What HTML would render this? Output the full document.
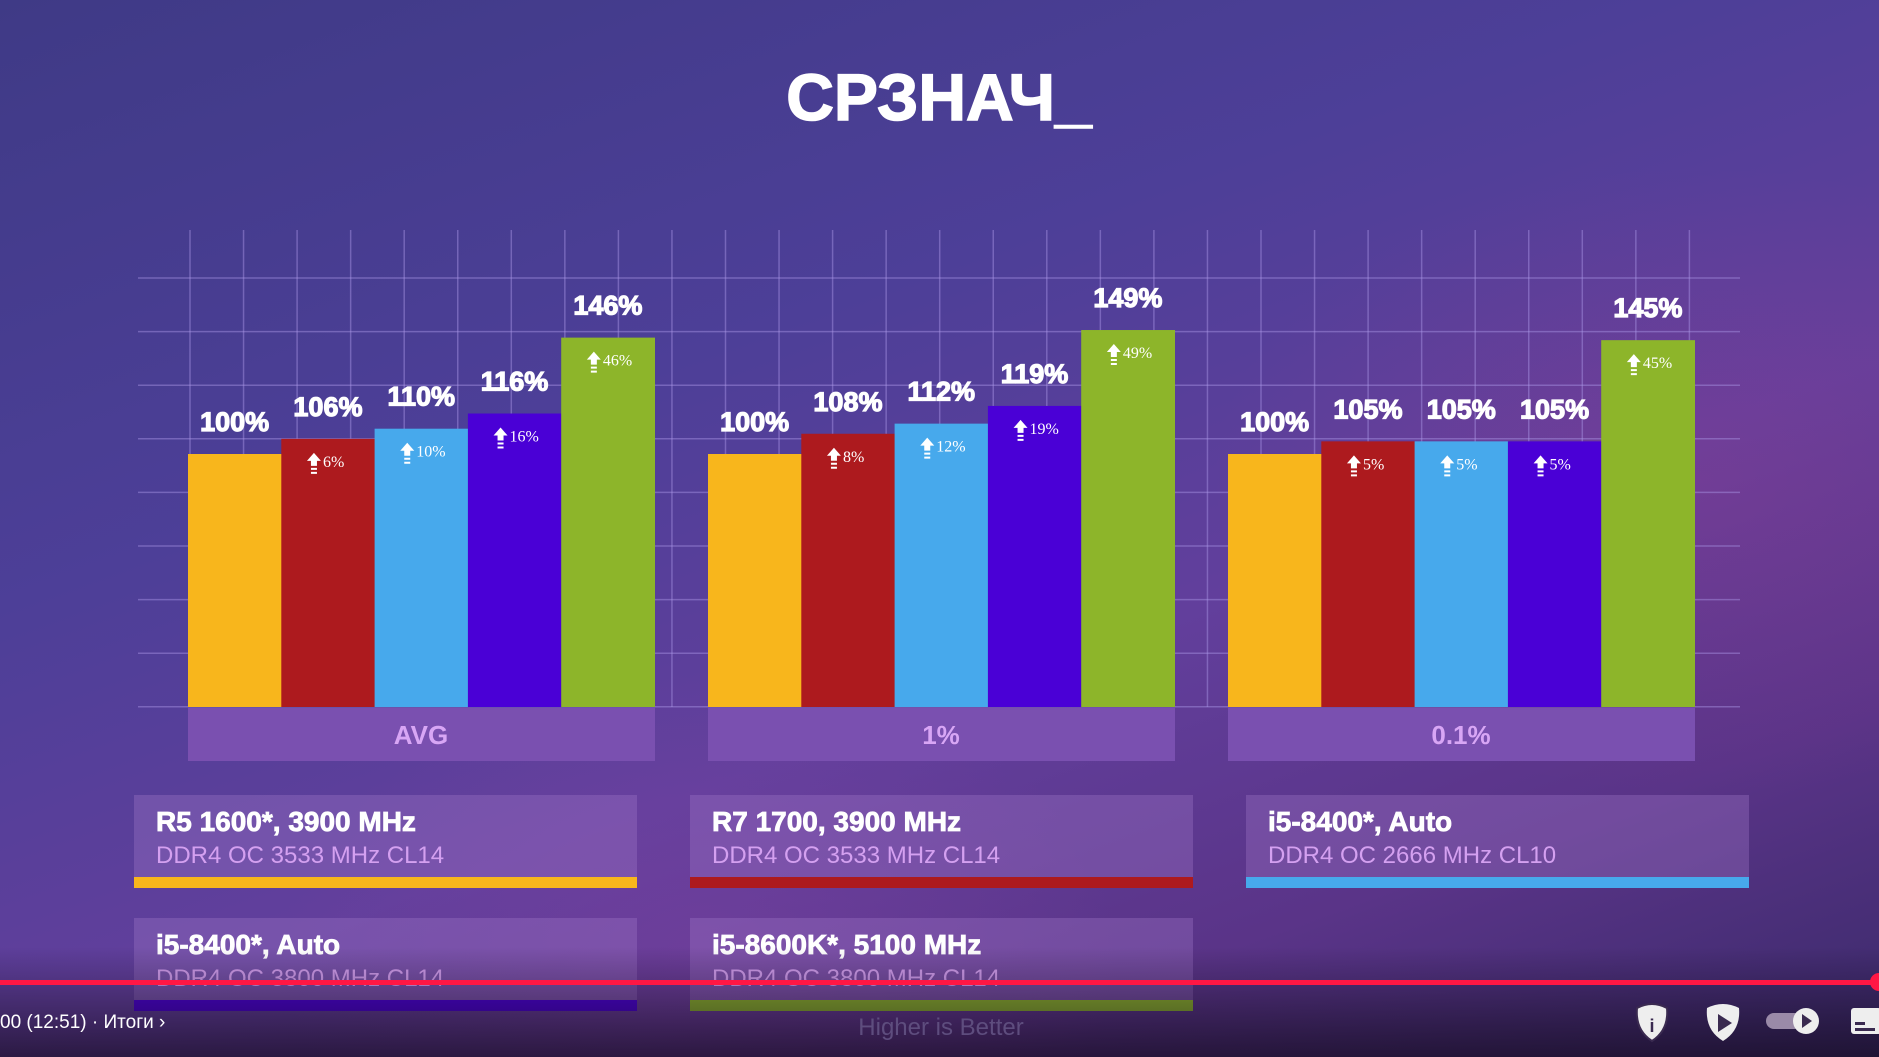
<!DOCTYPE html>
<html><head><meta charset="utf-8">
<style>
html,body{margin:0;padding:0;width:1879px;height:1057px;overflow:hidden;}
body{background:linear-gradient(160deg,#3f3a86 0%,#4d3f98 35%,#623f9c 60%,#5a3488 80%,#3a2a6a 100%);font-family:"Liberation Sans","DejaVu Sans",sans-serif;position:relative;}
.glow{position:absolute;inset:0;background:radial-gradient(ellipse 700px 450px at 1700px 480px,rgba(170,60,140,0.22),transparent 70%),radial-gradient(ellipse 600px 400px at 700px 950px,rgba(140,70,170,0.3),transparent 70%);}
.shade{position:absolute;left:0;right:0;bottom:0;height:110px;background:linear-gradient(to bottom,rgba(20,10,30,0),rgba(20,10,30,0.7));}
svg{position:absolute;left:0;top:0;}
</style></head>
<body>
<div class="glow"></div>
<svg id="chart" width="1879" height="1057"></svg>
<div class="shade"></div>
<svg width="1879" height="1057" style="pointer-events:none">
  <text x="941" y="1035" text-anchor="middle" font-size="24" fill="#5e4d7e">Higher is Better</text>
  <rect x="0" y="980" width="1879" height="5" fill="#ff1744"/>
  <circle cx="1879" cy="982" r="9" fill="#ff1744"/>
  <text x="0" y="1028" fill="#fff" font-size="19" font-family="Liberation Sans,sans-serif">00 (12:51)  ·  Итоги  ›</text>
  <g><path d="M1637 1008 q15-8 30 0 q2 22-15 33 q-17-11-15-33z" fill="#eee" stroke="#3a2a50" stroke-width="2"/><text x="1652" y="1032" text-anchor="middle" font-size="18" font-weight="bold" fill="#3a2a50">i</text></g>
  <g><path d="M1707 1008 q16-8 32 0 q2 22-16 33 q-18-11-16-33z" fill="#eee"/><path d="M1718 1014 l14 9 l-14 9z" fill="#3a2a50"/></g>
  <g><rect x="1766" y="1013" width="36" height="16" rx="8" fill="#9a8aa8"/><circle cx="1806" cy="1021" r="13" fill="#eee"/><path d="M1802 1014 l10 7 l-10 7z" fill="#3a2a50"/></g>
  <g><rect x="1851" y="1008" width="30" height="26" rx="3" fill="#eee"/><rect x="1855" y="1022" width="10" height="3" fill="#3a2a50"/><rect x="1855" y="1028" width="20" height="3" fill="#3a2a50"/></g>
</svg>
<script>
const categories=["AVG","1%","0.1%"];
const seriesNames=["R5 1600*, 3900 MHz","R7 1700, 3900 MHz","i5-8400*, Auto","i5-8400*, Auto","i5-8600K*, 5100 MHz"];
const seriesSub=["DDR4 OC 3533 MHz CL14","DDR4 OC 3533 MHz CL14","DDR4 OC 2666 MHz CL10","DDR4 OC 3800 MHz CL14","DDR4 OC 3800 MHz CL14"];
const seriesColors=["#f8b61c","#ad1a1e","#47a9ec","#4a00d6","#8db52a"];
const valuesAVG=[100,106,110,116,146];
const values1=[100,108,112,119,149];
const values01=[100,105,105,105,145];
const groups=[valuesAVG,values1,values01];

const NS="http://www.w3.org/2000/svg";
const svg=document.getElementById('chart');
function mk(tag,attrs,parent){const e=document.createElementNS(NS,tag);for(const k in attrs)e.setAttribute(k,attrs[k]);(parent||svg).appendChild(e);return e;}
const baseY=707, pxPer=2.53;
function y(v){return baseY-v*pxPer;}
const groupX=[188,708,1228], barW=93.3;
function x(g,i){return groupX[g]+i*barW;}

let t=mk('text',{x:939,y:120,'text-anchor':'middle','font-size':66,'font-weight':'bold',fill:'#fff',stroke:'#fff','stroke-width':1.5});


t.textContent="СРЗНАЧ_";

const gridC="rgba(170,150,230,0.45)";
for(let k=0;k<29;k++){const gx=190+k*53.55;
 const l=mk('line',{x1:gx,x2:gx,y1:230,y2:707,stroke:gridC,'stroke-width':1.5});
 
 }
for(let k=0;k<9;k++){const gy=278+k*53.6;
 const l=mk('line',{x1:138,x2:1740,y1:gy,y2:gy,stroke:gridC,'stroke-width':1.5});
 
 }

groups.forEach((vals,g)=>{
 vals.forEach((v,i)=>{
  const r=mk('rect',{x:x(g,i),y:y(v),width:barW+0.5,height:v*pxPer,fill:seriesColors[i]});
  
  
  const lb=mk('text',{x:x(g,i)+barW/2,y:y(v)-23,'text-anchor':'middle','font-size':27,'font-weight':'bold',fill:'#fff',stroke:'#fff','stroke-width':1.2});
  
  
  lb.textContent=v+"%";
  if(i>0){
   const gain=v-vals[0];
   const cx=x(g,i)+barW/2-14, ty=y(v)+28;
   const ar=mk('path',{d:`M${cx} ${ty-14} l-7 8 h4 v5 h6 v-5 h4z M${cx-3} ${ty+1} h6 v2 h-6z M${cx-3} ${ty+5} h6 v2 h-6z`,fill:'#fff'});
   
   
   const gt=mk('text',{x:cx+9,y:ty,'font-size':16,fill:'#fff','font-family':'Liberation Serif,serif'});
   
   
   gt.textContent=gain+"%";
  }
 });
 const cb=mk('rect',{x:groupX[g],y:708,width:467,height:53,fill:'#7a50b0'});
 
 
 const ct=mk('text',{x:groupX[g]+233,y:744,'text-anchor':'middle','font-size':26,'font-weight':'bold',fill:'#d8a6f5'});
 
 
 ct.textContent=categories[g];
});

const legX=[134,690,1246,134,690], legY=[795,795,795,918,918];
seriesNames.forEach((n,i)=>{
 const b=mk('rect',{x:legX[i],y:legY[i],width:503,height:82,fill:'rgba(160,120,200,0.35)'});
 
 
 const s=mk('rect',{x:legX[i],y:legY[i]+82,width:503,height:11,fill:seriesColors[i]});
 
 
 const a=mk('text',{x:legX[i]+22,y:legY[i]+36,'font-size':28,'font-weight':'bold',fill:'#fff',stroke:'#fff','stroke-width':0.8});
 
 
 a.textContent=n;
 const c=mk('text',{x:legX[i]+22,y:legY[i]+68,'font-size':24,fill:'#d4a0f0'});
 
 
 c.textContent=seriesSub[i];
});
</script>
</body></html>
